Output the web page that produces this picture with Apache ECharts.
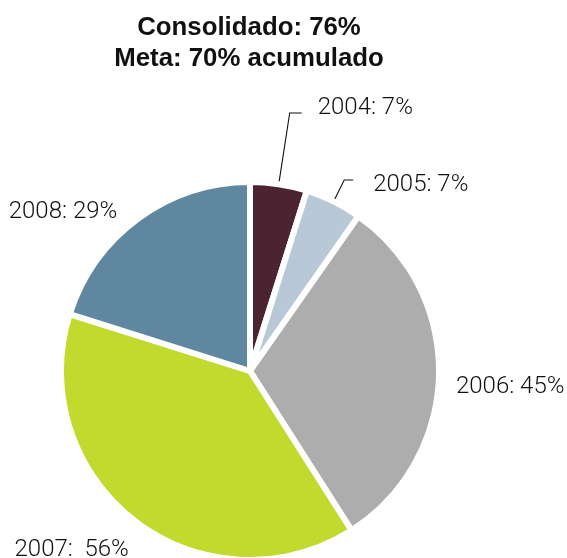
<!DOCTYPE html>
<html>
<head>
<meta charset="utf-8">
<script src="https://cdn.jsdelivr.net/npm/echarts@6/dist/echarts.min.js"></script>
<style>
html,body{margin:0;padding:0;background:#fff;}
#chart{width:567px;height:558px;}
</style>
</head>
<body>
<div id="chart"></div>
<script>
const titleLines = ['Consolidado: 76%', 'Meta: 70% acumulado'];
const categories = ['2004', '2005', '2006', '2007', '2008'];
const values = [7, 7, 45, 56, 29];
const labelTexts = ['2004: 7%', '2005: 7%', '2006: 45%', '2007:  56%', '2008: 29%'];
const colors = ['#4b2331', '#b8c8d6', '#adadae', '#c2d92e', '#5f87a0'];

// vertical nudge of each label text (px, + = down), done with an empty spacer line
const labelShift = [-5, 5, 12, 21, -7];

const itemLabel = [
  {labelLine: {show: true, length: 72, length2: 12}, label: {distanceToLabelLine: 16}},
  {labelLine: {show: true, length: 24, length2: 9}, label: {distanceToLabelLine: 20}},
  {labelLine: {show: false, length: 0, length2: 12}, label: {distanceToLabelLine: 5}},
  {labelLine: {show: false, length: 10, length2: 0}, label: {distanceToLabelLine: 0}},
  {labelLine: {show: false, length: 0, length2: 16}, label: {distanceToLabelLine: 5}}
];

function fmt(i) {
  const s = labelShift[i];
  if (s > 0) return '{sp' + i + '|}\n{t|' + labelTexts[i] + '}';
  if (s < 0) return '{t|' + labelTexts[i] + '}\n{sp' + i + '|}';
  return '{t|' + labelTexts[i] + '}';
}

const rich = {t: {fontFamily: 'Roboto', fontWeight: 300, fontSize: 24, lineHeight: 26, color: '#111'}};
labelShift.forEach((s, i) => {
  rich['sp' + i] = {fontSize: 1, lineHeight: Math.abs(s) * 2, height: Math.abs(s) * 2};
});

const data = categories.map((c, i) => ({
  name: c,
  value: values[i],
  itemStyle: {color: colors[i]},
  labelLine: itemLabel[i].labelLine,
  label: Object.assign({formatter: fmt(i)}, itemLabel[i].label)
}));

const chart = echarts.init(document.getElementById('chart'));
chart.setOption({
  animation: false,
  title: {
    text: titleLines.join('\n'),
    left: 244,
    textAlign: 'center',
    top: 7,
    textStyle: {
      fontFamily: 'Liberation Sans',
      fontWeight: 'bold',
      fontSize: 25.8,
      lineHeight: 31,
      color: '#111'
    }
  },
  series: [{
    type: 'pie',
    center: [250, 371],
    radius: [0, 189],
    startAngle: 90,
    clockwise: true,
    avoidLabelOverlap: false,
    itemStyle: {borderColor: '#fff', borderWidth: 6},
    label: {
      show: true,
      position: 'outside',
      rich: rich
    },
    labelLine: {
      lineStyle: {color: '#111', width: 1.1},
      smooth: false
    },
    emphasis: {disabled: true},
    data: data
  }]
});
</script>
</body>
</html>
